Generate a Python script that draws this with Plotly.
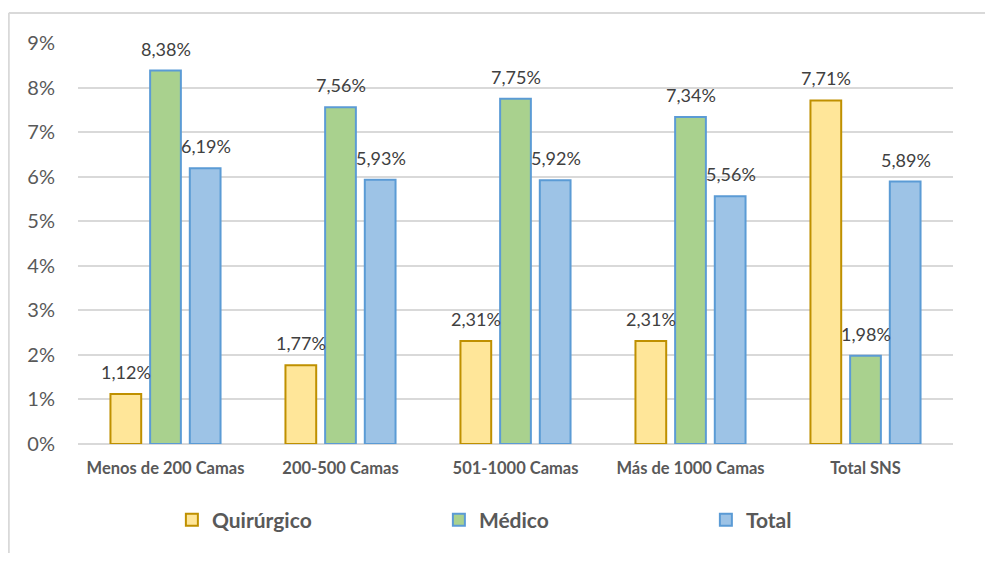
import plotly.graph_objects as go

categories = ["Menos de 200 Camas", "200-500 Camas", "501-1000 Camas",
              "Más de 1000 Camas", "Total SNS"]
quirurgico = [1.12, 1.77, 2.31, 2.31, 7.71]
medico = [8.38, 7.56, 7.75, 7.34, 1.98]
total = [6.19, 5.93, 5.92, 5.56, 5.89]
y_ticks = [0, 1, 2, 3, 4, 5, 6, 7, 8, 9]

series = [
    ("Quirúrgico", quirurgico, "#FFE699", "#BF9000"),
    ("Médico", medico, "#A9D18E", "#5B9BD5"),
    ("Total", total, "#9DC3E6", "#5B9BD5"),
]

FONT = "Lato, Carlito, Calibri, sans-serif"

fig = go.Figure()
for name, vals, fill, edge in series:
    fig.add_trace(go.Bar(
        name=name, x=categories, y=vals,
        marker=dict(color=fill, line=dict(color=edge, width=2)),
    ))

# data labels above each bar (Excel style, a little higher than plotly's outside text)
slot = 40
for i, (name, vals, fill, edge) in enumerate(series):
    for cat, v in zip(categories, vals):
        fig.add_annotation(
            x=cat, y=v, xref="x", yref="y",
            text=f"{v:.2f}%".replace(".", ","),
            showarrow=False, xshift=(i - 1) * slot, yshift=22,
            yanchor="middle",
            font=dict(family=FONT, size=18, color="#404040"),
        )

# chart frame: only the left and top edges show in the picture
frame = dict(color="#D9D9D9", width=2)
fig.add_shape(type="line", xref="paper", yref="paper",
              x0=-0.0791, x1=1.05, y0=1.0746, y1=1.0746, line=frame, layer="below")
fig.add_shape(type="line", xref="paper", yref="paper",
              x0=-0.0791, x1=-0.0791, y0=-0.5, y1=1.0746, line=frame, layer="below")

# the page body has an 8px margin; keep the figure inside the window
fig.update_layout(
    width=977, height=545,
    margin=dict(l=70, r=22, t=35, b=108),
    paper_bgcolor="white", plot_bgcolor="white",
    barmode="group", bargap=0.32, bargroupgap=0.225,
    font=dict(family=FONT, color="#595959"),
    showlegend=True,
    legend=dict(
        orientation="h", x=0.565, xanchor="center", y=-0.19, yanchor="middle",
        font=dict(family=FONT, size=21, color="#595959", weight="bold"),
        entrywidth=222, itemsizing="constant",
    ),
)
fig.update_yaxes(
    range=[0, 9], tickvals=y_ticks,
    ticktext=[f"{t}%" for t in y_ticks],
    showgrid=True, gridcolor="#D9D9D9", gridwidth=1.5,
    zeroline=True, zerolinecolor="#D9D9D9", zerolinewidth=1.5,
    showline=False, ticks="", ticklabelstandoff=22,
    tickfont=dict(family=FONT, size=20, color="#595959"),
)
fig.update_xaxes(
    showline=False, ticks="", showgrid=False, ticklabelstandoff=12,
    tickfont=dict(family=FONT, size=16.5, color="#595959", weight="bold"),
)

fig.write_html("out.html")
